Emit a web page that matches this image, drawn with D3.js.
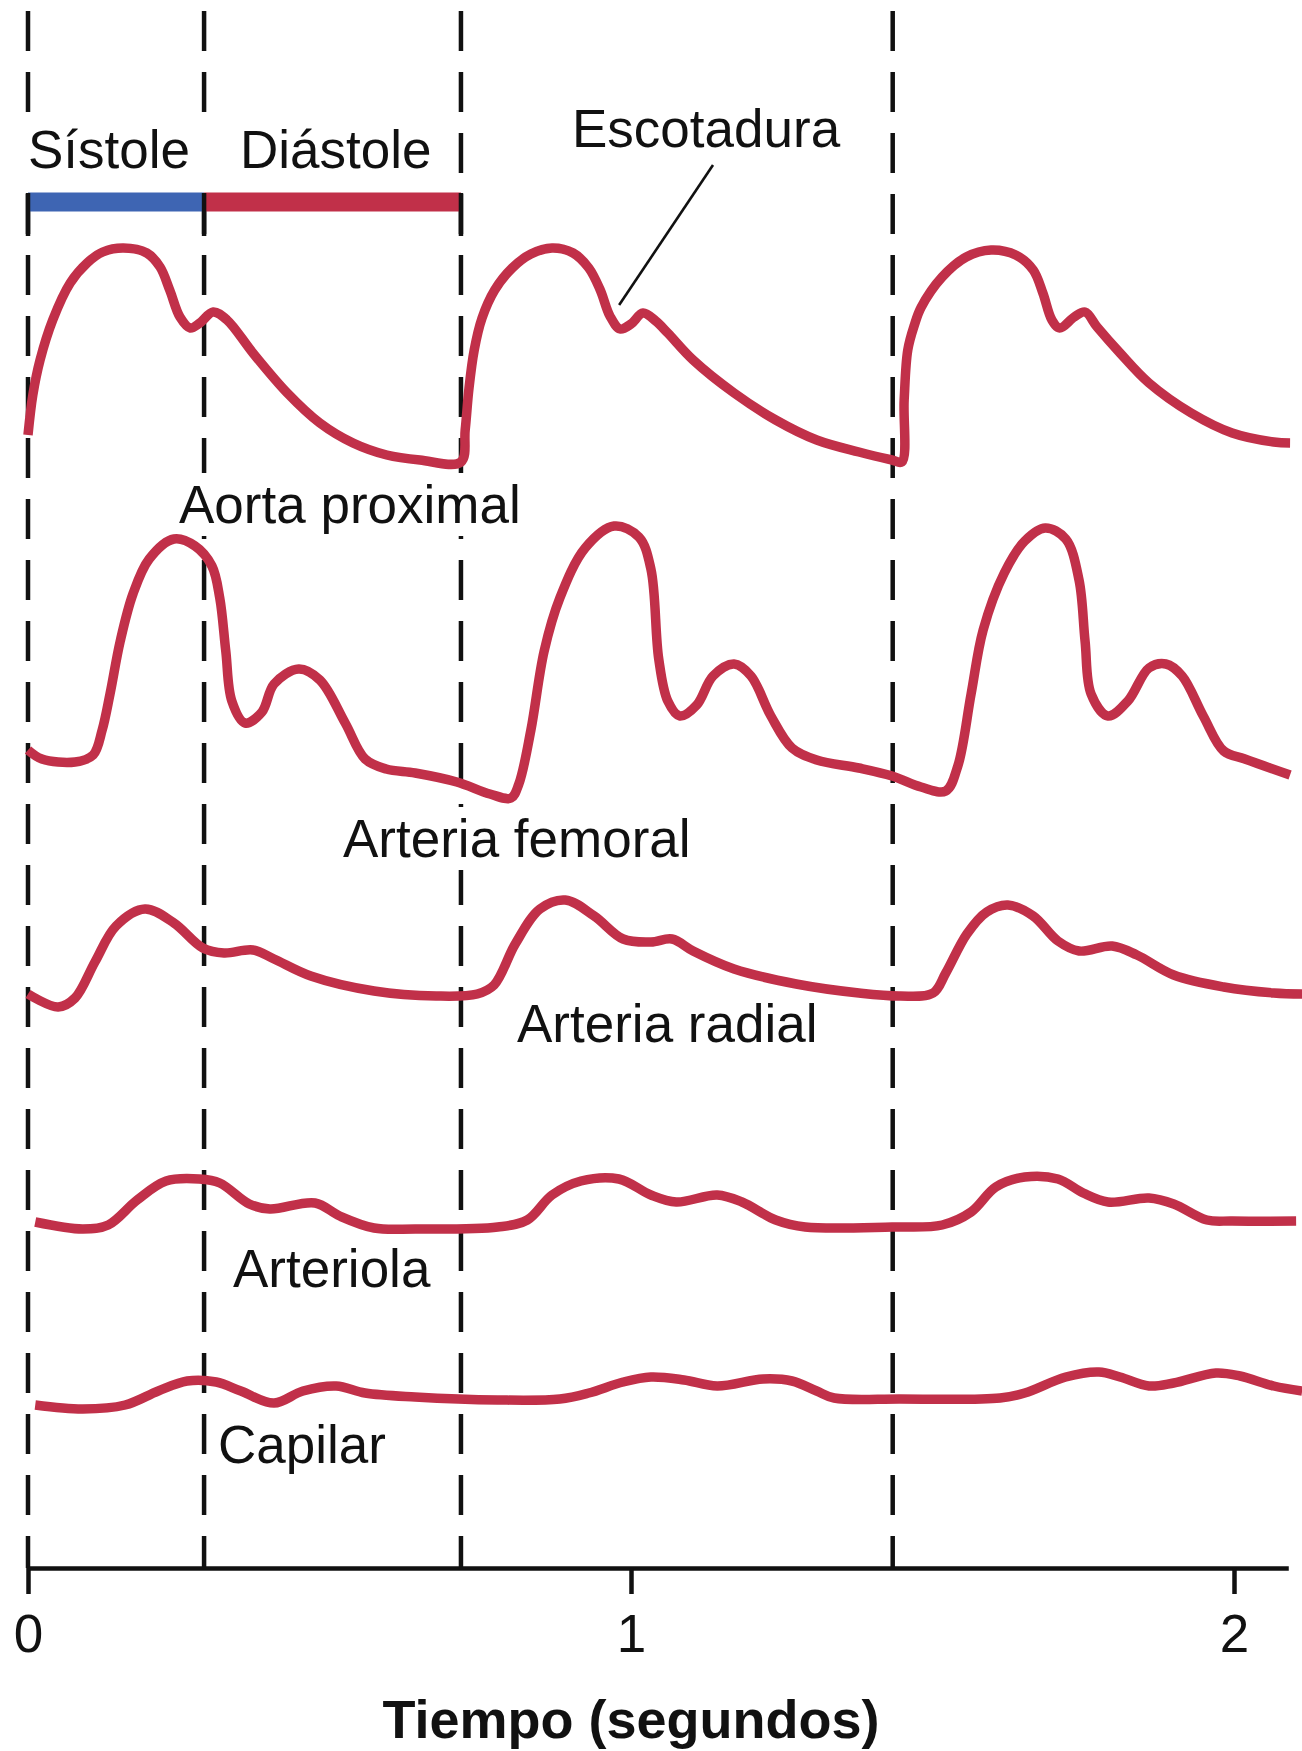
<!DOCTYPE html>
<html><head><meta charset="utf-8">
<script src="https://cdn.jsdelivr.net/npm/d3@7"></script>
<style>
body{margin:0;background:#fff}
svg{display:block}
text{font-family:"Liberation Sans",Arial,Helvetica,sans-serif;fill:#111}
</style>
</head><body>
<script>
// ---------------- data ----------------
const timeTicks = [0, 1, 2];
const phaseBounds = [0, 0.292, 0.718, 1.434];
const phaseNames = ["Sístole", "Diástole"];
const seriesNames = ["Aorta proximal", "Arteria femoral", "Arteria radial", "Arteriola", "Capilar"];
const axisTitle = "Tiempo (segundos)";
const notchLabel = "Escotadura";
const notchPoint = [0.982, 34.2];

// [time (s), relative pressure]
const aorta = [
  [0,13],[0.008,21],[0.020,28],[0.041,36],[0.070,43.4],[0.098,47.4],[0.124,49.6],[0.158,50.4],
  [0.197,49.4],[0.219,46.6],[0.235,42],[0.252,36.6],[0.269,34.4],[0.285,35.4],[0.307,37.6],[0.330,36],
  [0.373,29.4],[0.430,21.4],[0.484,15.4],[0.539,11.4],[0.595,9],[0.650,8],[0.718,7.6],
  [0.725,14],[0.731,22],[0.740,30],[0.753,36.4],[0.774,42],[0.803,46.4],[0.834,49.2],[0.869,50.4],
  [0.904,49.4],[0.930,46.4],[0.949,42],[0.965,36.8],[0.982,34.2],[1.000,35.2],[1.020,37.4],[1.041,35.8],
  [1.061,33.4],[1.103,28],[1.171,21.4],[1.240,16],[1.308,12],[1.378,9.6],[1.433,8],[1.449,7.6],
  [1.453,20],[1.459,30],[1.470,35],[1.481,38.5],[1.516,44.6],[1.556,48.6],[1.597,50],[1.638,49],
  [1.667,46],[1.683,41.4],[1.698,36],[1.711,34.4],[1.735,36.6],[1.753,37.6],[1.773,34.6],[1.811,29.4],
  [1.859,23.4],[1.929,17.4],[1.997,13.4],[2.066,11.6],[2.093,11.4]
];
const femoral = [
  [0,14],[0.023,12.2],[0.078,11.6],[0.108,13],[0.123,18],[0.136,25.2],[0.153,35.8],[0.174,45.2],
  [0.201,52.2],[0.242,56.2],[0.277,54.8],[0.305,50.8],[0.318,44.4],[0.328,33.8],[0.338,23.8],[0.360,19.4],
  [0.388,21.6],[0.408,27.2],[0.449,30.2],[0.484,28],[0.526,19.4],[0.559,12.2],[0.594,10.2],[0.642,9.4],
  [0.711,7.6],[0.766,5.2],[0.801,4.4],[0.814,7.2],[0.834,18],[0.856,33.8],[0.882,44.4],[0.924,54.4],
  [0.972,58.8],[1.013,56.6],[1.033,50.2],[1.046,32.2],[1.061,23.8],[1.081,20.8],[1.109,23],[1.136,28.8],
  [1.171,31.2],[1.199,28.8],[1.232,20.8],[1.267,14.4],[1.308,12],[1.378,10.4],[1.433,8.8],[1.481,6.6],
  [1.522,5.8],[1.542,10.8],[1.564,25.2],[1.584,38],[1.619,49.4],[1.653,55.8],[1.687,58.4],[1.721,56.2],
  [1.743,48],[1.753,35.8],[1.763,25.2],[1.791,20.8],[1.824,23.8],[1.859,30.4],[1.887,31.2],[1.914,28.8],
  [1.949,20.8],[1.983,13.8],[2.018,12.2],[2.093,9]
];
const radial = [
  [0,9.2],[0.050,6.6],[0.078,8.4],[0.111,15.6],[0.146,22.8],[0.194,26.2],[0.242,23.4],[0.290,18.4],
  [0.325,17.4],[0.373,18],[0.408,16.2],[0.469,12.8],[0.574,9.8],[0.677,8.8],[0.745,9.2],[0.773,11],
  [0.808,19.2],[0.849,26.2],[0.891,28],[0.939,24.8],[0.987,20.2],[1.033,19.6],[1.068,20.2],[1.103,17.8],
  [1.171,14.2],[1.274,11.2],[1.378,9.4],[1.446,8.8],[1.501,9.4],[1.522,13.4],[1.557,21.2],[1.590,25.6],
  [1.625,27],[1.667,24.8],[1.708,19.8],[1.743,17.8],[1.798,18.8],[1.839,17],[1.900,13],[1.983,10.6],
  [2.066,9.4],[2.113,9.2]
];
const arteriola = [
  [0.012,7.6],[0.091,6.2],[0.133,7],[0.181,12],[0.229,15.8],[0.284,16.2],[0.318,15.4],[0.367,11.2],
  [0.401,10.2],[0.476,11.4],[0.517,8.8],[0.574,6.4],[0.642,6.2],[0.779,6.6],[0.828,8],[0.869,13],
  [0.917,15.8],[0.980,16.2],[1.033,13],[1.075,11.6],[1.143,13],[1.184,11.6],[1.240,8],[1.289,6.6],
  [1.433,6.6],[1.516,7],[1.564,9.6],[1.605,14.6],[1.653,16.6],[1.708,16.2],[1.750,13.4],[1.791,11.6],
  [1.859,12.4],[1.900,11.2],[1.955,8],[1.997,7.8],[2.103,7.8]
];
const capilar = [
  [0.012,7],[0.091,6.2],[0.161,7],[0.216,9.8],[0.264,11.8],[0.312,11.6],[0.353,9.8],[0.408,7.4],
  [0.456,9.8],[0.511,10.8],[0.559,9.4],[0.642,8.6],[0.779,8],[0.882,8.2],[0.930,9.4],[0.987,11.6],
  [1.033,12.6],[1.088,12],[1.143,10.8],[1.219,12.2],[1.267,11.8],[1.308,9.8],[1.337,8.4],[1.446,8.2],
  [1.612,8.4],[1.653,9.4],[1.721,12.6],[1.776,13.6],[1.811,12.6],[1.859,10.8],[1.900,11.4],[1.970,13.4],
  [2.010,12.8],[2.066,10.8],[2.113,9.8]
];
const seriesData = [aorta, femoral, radial, arteriola, capilar];

// ---------------- layout ----------------
const W = 1302, H = 1751;
const RED = "#c13049", BLUE = "#3e65b3";
const FS = 53;
const axisY = 1568;
const rowZero = [500, 820, 1040, 1260, 1440];
const labelPos = [[179,523],[343,857],[517,1042],[233,1287],[218,1463]];

const x = d3.scaleLinear().domain([0, 2]).range([28, 1234]);
const xAxisScale = d3.scaleLinear().domain([0, 2.09]).range([x(0), x(2.09)]);
const yRow = rowZero.map(z => d3.scaleLinear().domain([0, 100]).range([z, z - 500]));

const svg = d3.select("body").append("svg").attr("width", W).attr("height", H);

// dashed phase lines
const gDash = svg.append("g");
gDash.selectAll("line").data(phaseBounds).join("line")
  .attr("x1", d => x(d)).attr("x2", d => x(d))
  .attr("y1", 11).attr("y2", axisY)
  .attr("stroke", "#111").attr("stroke-width", 4.5)
  .attr("stroke-dasharray", "40,21");

// phase label background boxes
const phases = phaseNames.map((n, i) => ({name: n, t0: phaseBounds[i], t1: phaseBounds[i+1]}));
svg.append("g").selectAll("rect").data(phases).join("rect")
  .attr("x", d => x(d.t0) - 7).attr("width", d => x(d.t1) - x(d.t0))
  .attr("y", 124).attr("height", 56).attr("fill", "#fff");

// phase bar
svg.append("g").selectAll("line").data(phases).join("line")
  .attr("x1", d => x(d.t0)).attr("x2", d => x(d.t1))
  .attr("y1", 202).attr("y2", 202)
  .attr("stroke", (d, i) => i === 0 ? BLUE : RED).attr("stroke-width", 19);
// bar end marks
svg.append("g").selectAll("line").data(phaseBounds.slice(0, 3)).join("line")
  .attr("x1", d => x(d)).attr("x2", d => x(d))
  .attr("y1", 193).attr("y2", 236)
  .attr("stroke", "#111").attr("stroke-width", 4.5);

// phase labels
svg.append("g").selectAll("text").data(phases).join("text")
  .attr("x", (d, i) => i === 0 ? 28 : 240).attr("y", 168)
  .attr("font-size", FS).text(d => d.name);

// series labels with white boxes
const gLab = svg.append("g");
seriesNames.forEach((name, i) => {
  const t = gLab.append("text").attr("x", labelPos[i][0]).attr("y", labelPos[i][1])
    .attr("font-size", FS).text(name);
  const bb = t.node().getBBox();
  gLab.insert("rect", "text").attr("x", bb.x - 4).attr("y", bb.y - 2)
    .attr("width", bb.width + 8).attr("height", bb.height + 4).attr("fill", "#fff");
});

// curves
const gCurves = svg.append("g");
seriesData.forEach((data, i) => {
  const line = d3.line().x(d => x(d[0])).y(d => yRow[i](d[1])).curve(d3.curveCatmullRom.alpha(0.5));
  gCurves.append("path").datum(data).attr("d", line)
    .attr("fill", "none").attr("stroke", RED).attr("stroke-width", 9.5)
    .attr("stroke-linejoin", "round").attr("stroke-linecap", "butt");
});

// Escotadura label + pointer
svg.append("text").attr("x", 572).attr("y", 147).attr("font-size", FS).text(notchLabel);
svg.append("line")
  .attr("x1", 713).attr("y1", 165)
  .attr("x2", x(notchPoint[0]) - 1).attr("y2", yRow[0](notchPoint[1]) - 24)
  .attr("stroke", "#111").attr("stroke-width", 2.6);

// axis
const axis = d3.axisBottom(xAxisScale).tickValues(timeTicks).tickSize(26).tickSizeOuter(0)
  .tickFormat(d3.format("d"));
const gAxis = svg.append("g").attr("transform", `translate(0,${axisY})`).call(axis);
gAxis.select(".domain").attr("stroke", "#111").attr("stroke-width", 4.5);
gAxis.selectAll(".tick line").attr("stroke", "#111").attr("stroke-width", 4.5);
gAxis.selectAll(".tick text").attr("y", 84).attr("dy", 0)
  .attr("font-size", FS).attr("font-family", '"Liberation Sans",Arial,sans-serif').attr("fill", "#111");

svg.append("text").attr("x", x(1)).attr("y", 1738).attr("text-anchor", "middle")
  .attr("font-size", 54).attr("font-weight", "bold").text(axisTitle);
</script>
</body></html>
